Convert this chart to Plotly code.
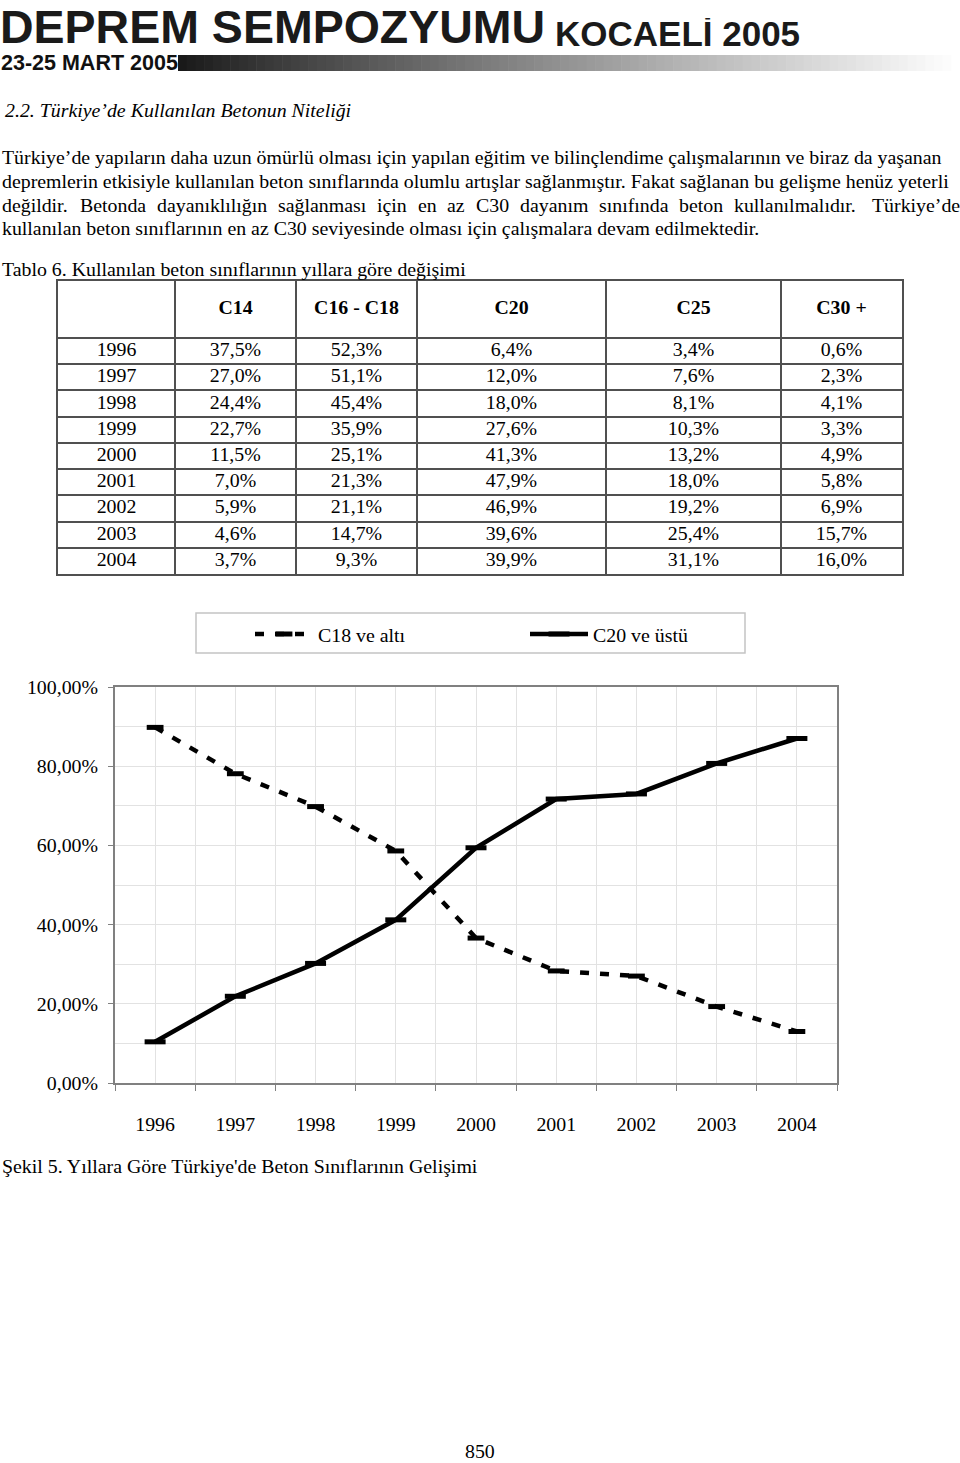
import plotly.graph_objects as go

W, H = 960, 1463

# ---------------- data ----------------
years = ["1996", "1997", "1998", "1999", "2000", "2001", "2002", "2003", "2004"]
table_header = ["", "C14", "C16 - C18", "C20", "C25", "C30 +"]
c14 = [37.5, 27.0, 24.4, 22.7, 11.5, 7.0, 5.9, 4.6, 3.7]
c16_c18 = [52.3, 51.1, 45.4, 35.9, 25.1, 21.3, 21.1, 14.7, 9.3]
c20 = [6.4, 12.0, 18.0, 27.6, 41.3, 47.9, 46.9, 39.6, 39.9]
c25 = [3.4, 7.6, 8.1, 10.3, 13.2, 18.0, 19.2, 25.4, 31.1]
c30_plus = [0.6, 2.3, 4.1, 3.3, 4.9, 5.8, 6.9, 15.7, 16.0]

c18_ve_alti = [89.8, 78.1, 69.8, 58.6, 36.6, 28.3, 27.0, 19.3, 13.0]
c20_ve_ustu = [10.4, 21.9, 30.2, 41.2, 59.4, 71.7, 73.0, 80.7, 87.0]
series_names = ["C18 ve altı", "C20 ve üstü"]

y_ticks = [0, 20, 40, 60, 80, 100]

# ---------------- helpers ----------------
def px(x):
    return x / W

def py(y):
    return 1 - y / H

SERIF = "Liberation Serif"
SANS = "Liberation Sans"
FS = 19.85

def pct(v):
    return f"{v:.1f}".replace(".", ",") + "%"

fig = go.Figure()

# ---------------- table (drawn on its own axes) ----------------
col_edges = [0, 117, 238, 359, 548, 723, 844]          # px from table left
header_h, row_h = 57, 26.2
row_edges = [0, header_h] + [header_h + row_h * (k + 1) for k in range(len(years))]
table_h = row_edges[-1]
col_centers = [(col_edges[i] + col_edges[i + 1]) / 2 for i in range(len(col_edges) - 1)]

columns = [years, [pct(v) for v in c14], [pct(v) for v in c16_c18],
           [pct(v) for v in c20], [pct(v) for v in c25], [pct(v) for v in c30_plus]]

tx, ty, tt = [], [], []
for j, h in enumerate(table_header):
    if h:
        tx.append(col_centers[j]); ty.append(header_h / 2); tt.append(f"<b>{h}</b>")
for j, col in enumerate(columns):
    for i, val in enumerate(col):
        tx.append(col_centers[j]); ty.append(header_h + row_h * (i + 0.5)); tt.append(val)

fig.add_trace(go.Scatter(
    x=tx, y=ty, text=tt, mode="text", textposition="middle center",
    textfont=dict(family=SERIF, size=FS, color="black"),
    xaxis="x3", yaxis="y3", showlegend=False, hoverinfo="skip", cliponaxis=False,
))

# ---------------- chart ----------------
xs = list(range(len(years)))
fig.add_trace(go.Scatter(
    x=xs, y=c18_ve_alti, name=series_names[0], mode="lines+markers",
    line=dict(color="black", width=4.5, dash="9px,11px"),
    marker=dict(symbol="line-ew", size=12, line=dict(color="black", width=5)),
))
fig.add_trace(go.Scatter(
    x=xs, y=c20_ve_ustu, name=series_names[1], mode="lines+markers",
    line=dict(color="black", width=4.5),
    marker=dict(symbol="line-ew", size=15, line=dict(color="black", width=5)),
))

boundaries = [i - 0.5 for i in range(len(years) + 1)]
grid = "#e2e2e2"
axcol = "#808080"

fig.update_layout(
    width=W, height=H,
    margin=dict(l=0, r=0, t=0, b=0, pad=0, autoexpand=False),
    paper_bgcolor="white", plot_bgcolor="white",
    font=dict(family=SERIF, size=FS, color="black"),
    showlegend=True,
    legend=dict(
        orientation="h", x=px(250), y=py(634), xanchor="left", yanchor="middle",
        bgcolor="rgba(0,0,0,0)", borderwidth=0,
        font=dict(family=SERIF, size=FS, color="black"),
        entrywidth=202, entrywidthmode="pixels", itemwidth=58,
    ),
    xaxis=dict(
        domain=[px(115), px(837)],
        range=[-0.5, len(years) - 0.5],
        tickmode="array", tickvals=xs, ticktext=years, ticks="",
        ticklabelstandoff=22, automargin=False,
        showgrid=True, gridcolor=grid, gridwidth=1,
        showline=True, linecolor=axcol, linewidth=2, mirror=True,
        zeroline=False,
        minor=dict(tickvals=boundaries, ticks="outside", ticklen=6, tickcolor=axcol,
                   showgrid=True, gridcolor=grid, gridwidth=1),
        tickfont=dict(family=SERIF, size=FS),
    ),
    yaxis=dict(
        domain=[py(1083), py(687)],
        range=[0, 100],
        tickmode="array", tickvals=y_ticks,
        ticktext=[f"{v:.2f}".replace(".", ",") + "%" for v in y_ticks],
        ticks="outside", ticklen=5, tickcolor=axcol,
        ticklabelstandoff=6, automargin=False,
        showgrid=True, gridcolor=grid, gridwidth=1,
        showline=True, linecolor=axcol, linewidth=2, mirror=True,
        zeroline=False,
        minor=dict(dtick=10, showgrid=True, gridcolor=grid, gridwidth=1),
        tickfont=dict(family=SERIF, size=FS),
    ),
    xaxis3=dict(
        domain=[px(58), px(902)], range=[0, col_edges[-1]], anchor="y3",
        tickmode="array", tickvals=col_edges, showticklabels=False, ticks="",
        showgrid=True, gridcolor="#505050", gridwidth=1.5, automargin=False,
        showline=True, linecolor="#505050", linewidth=1.5, mirror=True,
        zeroline=False, fixedrange=True,
    ),
    yaxis3=dict(
        domain=[py(574), py(281)], range=[table_h, 0], anchor="x3",
        tickmode="array", tickvals=row_edges, showticklabels=False, ticks="",
        showgrid=True, gridcolor="#505050", gridwidth=1.5, automargin=False,
        showline=True, linecolor="#505050", linewidth=1.5, mirror=True,
        zeroline=False, fixedrange=True,
    ),
)

shapes = []
# legend box
shapes.append(dict(type="rect", xref="paper", yref="paper",
                   x0=px(196), x1=px(745), y0=py(653), y1=py(613),
                   line=dict(color="#c4c4c4", width=1.5), fillcolor="rgba(0,0,0,0)", layer="below"))
# header gradient bar
n = 90
x_start, x_end = 178, 960
for i in range(n):
    xa = x_start + (x_end - x_start) * i / n
    xb = x_start + (x_end - x_start) * (i + 1) / n + 0.6
    g = int(25 + (255 - 25) * (i / (n - 1)) ** 0.9)
    shapes.append(dict(type="rect", xref="paper", yref="paper",
                       x0=px(xa), x1=px(xb), y0=py(71), y1=py(55),
                       line=dict(width=0), fillcolor=f"rgb({g},{g},{g})", layer="below"))
fig.update_layout(shapes=shapes)

ann = []
def text(x, y, s, size=FS, family=SERIF, anchor="left", color="black", height=None):
    a = dict(x=px(x), y=py(y), xref="paper", yref="paper", text=s, showarrow=False,
             xanchor=anchor, yanchor="middle",
             font=dict(family=family, size=size, color=color))
    if height:
        a["height"] = height
    ann.append(a)

# header
text(-2, 27, "<b>DEPREM SEMPOZYUMU</b>", size=46.5, family=SANS, color="#1a1a1a", height=44)
text(553, 33, "<b>KOCAELİ 2005</b>", size=35, family=SANS, color="#1a1a1a", height=30)
text(-1, 63, "<b>23-25 MART 2005</b>", size=21.5, family=SANS, color="#111111", height=18)

# heading & paragraph
text(3, 110, "<i>2.2. Türkiye’de Kullanılan Betonun Niteliği</i>")
text(0, 157, "Türkiye’de yapıların daha uzun ömürlü olması için yapılan eğitim ve bilinçlendime çalışmalarının ve biraz da yaşanan")
text(0, 181, "depremlerin etkisiyle kullanılan beton sınıflarında olumlu artışlar sağlanmıştır. Fakat sağlanan bu gelişme henüz yeterli")
line3 = [("değildir.", 0), ("Betonda", 77.6), ("dayanıklılığın", 154.7), ("sağlanması", 275.8),
         ("için", 374.9), ("en", 415.6), ("az", 445.2), ("C30", 473.6), ("dayanım", 517.6),
         ("sınıfında", 596.9), ("beton", 677.2), ("kullanılmalıdır.", 732.2), ("Türkiye’de", 870.0)]
for w_, x_ in line3:
    text(x_, 205, w_)
text(0, 228, "kullanılan beton sınıflarının en az C30 seviyesinde olması için çalışmalara devam edilmektedir.")
text(0, 269, "Tablo 6. Kullanılan beton sınıflarının yıllara göre değişimi")

# caption & page number
text(0, 1166, "Şekil 5. Yıllara Göre Türkiye'de Beton Sınıflarının Gelişimi")
text(480, 1451, "850", anchor="center")

fig.update_layout(annotations=ann)

fig.write_html(
    "out.html",
    config={"displayModeBar": False},
    post_script="document.body.style.margin='0px';document.body.style.padding='0px';"
                "document.body.style.overflow='hidden';",
)
